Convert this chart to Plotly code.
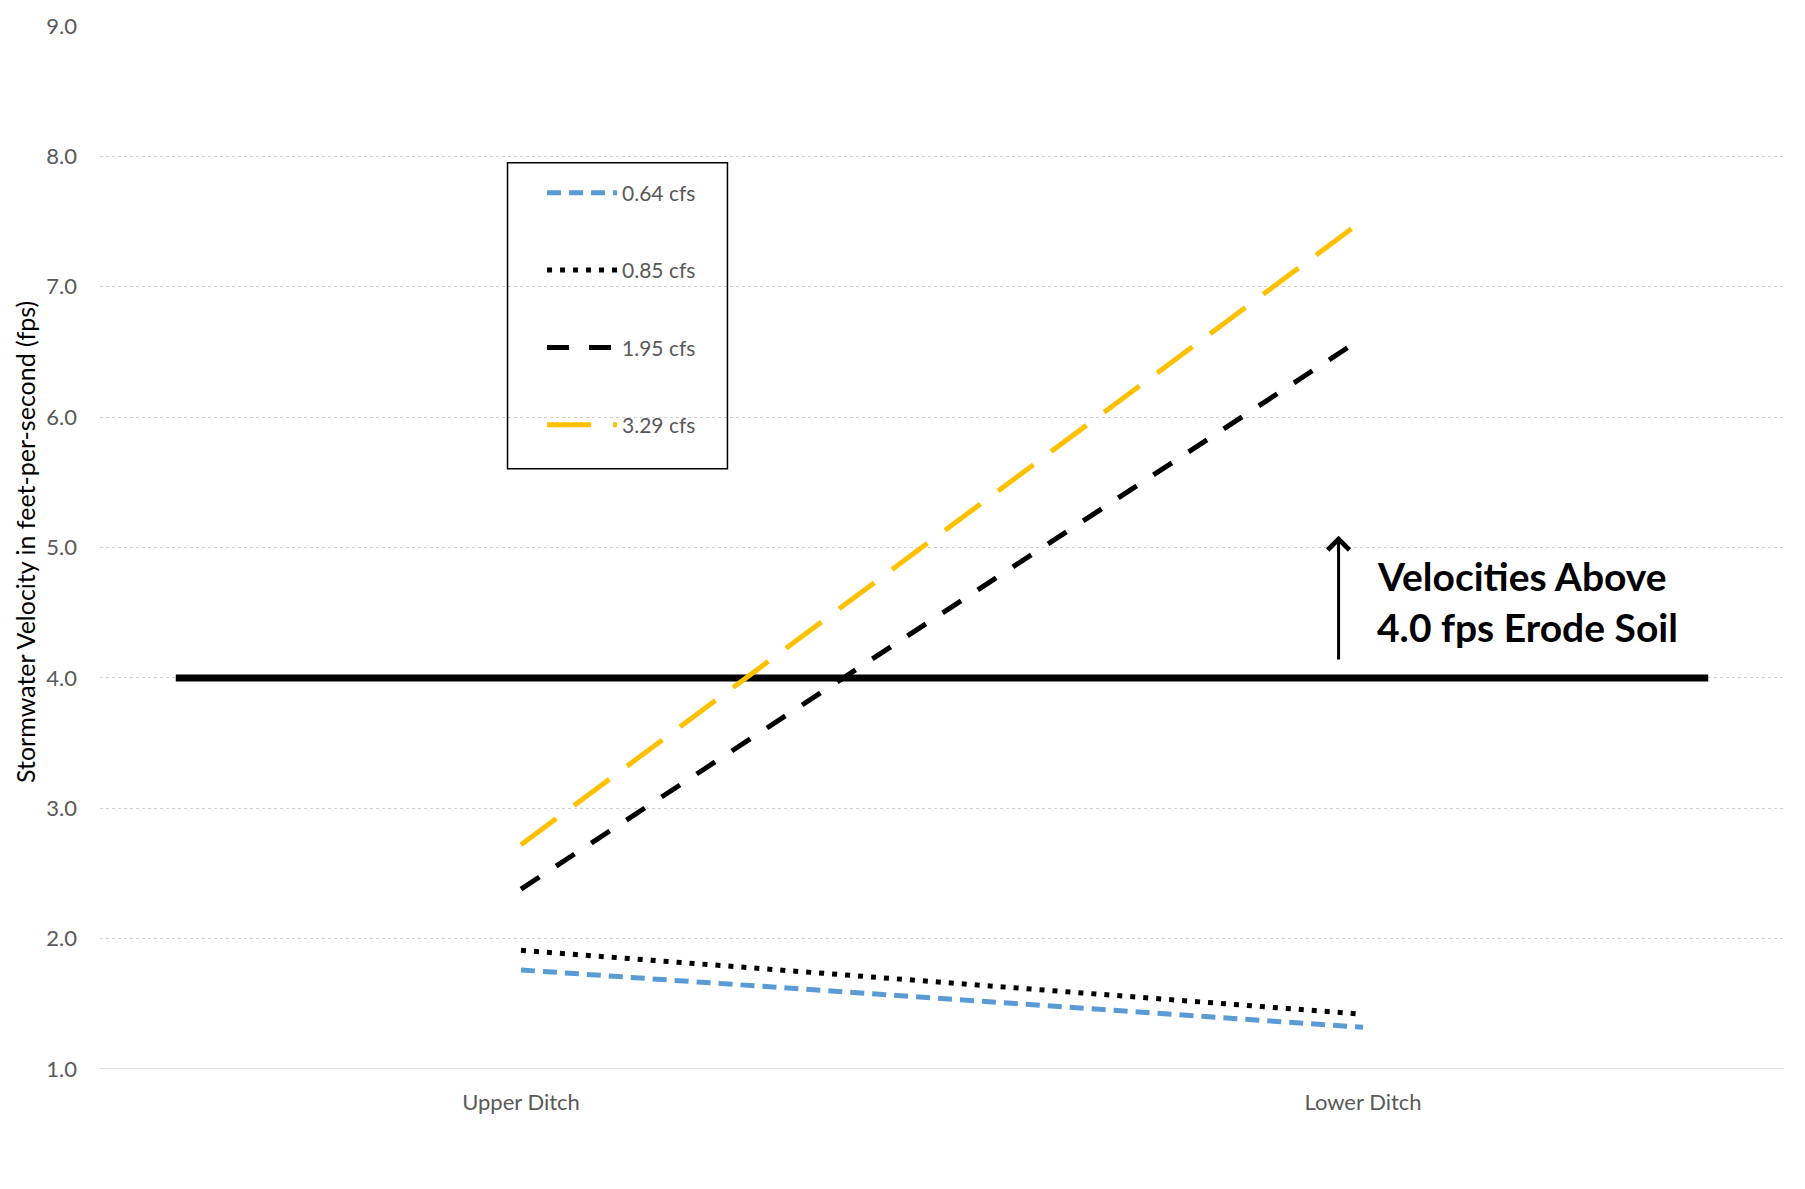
import plotly.graph_objects as go

# Ditch locations along the x axis
locations = ["Upper Ditch", "Lower Ditch"]

# Velocity (fps) at each location, one series per flow rate
flow_labels = ["0.64 cfs", "0.85 cfs", "1.95 cfs", "3.29 cfs"]
vel_064 = [1.76, 1.32]
vel_085 = [1.91, 1.42]
vel_195 = [2.38, 6.61]
vel_329 = [2.72, 7.51]

# Erosion threshold velocity
erosion_limit = 4.0

y_ticks = [1, 2, 3, 4, 5, 6, 7, 8, 9]
y_tick_text = ["1.0", "2.0", "3.0", "4.0", "5.0", "6.0", "7.0", "8.0", "9.0"]

FONT = "Lato, 'Open Sans', sans-serif"
TICK_GRAY = "#595959"

series = [
    (flow_labels[0], vel_064, "#5b9bd5", 5, "14px,8px"),
    (flow_labels[1], vel_085, "#000000", 5, "5px,8px"),
    (flow_labels[2], vel_195, "#000000", 5, "22px,20px"),
    (flow_labels[3], vel_329, "#ffc000", 5, "44px,22px"),
]

fig = go.Figure()
for i, (name, vals, color, width, dash) in enumerate(series):
    fig.add_trace(go.Scatter(
        x=locations, y=vals, name=name, mode="lines",
        line=dict(color=color, width=width, dash=dash),
        legendgroup=f"g{i}",
    ))

# Erosion threshold line across the chart
fig.add_shape(type="line", xref="x", yref="y",
              x0=-0.41, x1=1.41, y0=erosion_limit, y1=erosion_limit,
              line=dict(color="#000000", width=7), layer="between")

# Legend frame
fig.add_shape(type="rect", xref="paper", yref="paper",
              x0=0.242, x1=0.3726, y0=0.5756, y1=0.8688,
              line=dict(color="#000000", width=1.5), fillcolor="rgba(0,0,0,0)")

# Arrow pointing up from the threshold
fig.add_annotation(x=0.971, y=5.09, ax=0.971, ay=4.13,
                   xref="x", yref="y", axref="x", ayref="y",
                   text="", showarrow=True, arrowhead=4, arrowsize=1.4,
                   arrowwidth=3, arrowcolor="#000000")
fig.add_annotation(x=1.014, y=4.785, xref="x", yref="y", xanchor="left", yanchor="middle",
                   text="<b>Velocities Above</b>", showarrow=False,
                   font=dict(family=FONT, size=39, color="#000000"))
fig.add_annotation(x=1.014, y=4.39, xref="x", yref="y", xanchor="left", yanchor="middle",
                   text="<b>4.0 fps Erode Soil</b>", showarrow=False,
                   font=dict(family=FONT, size=39, color="#000000"))

# Value axis title
fig.add_annotation(x=-0.0444, y=0.5055, xref="paper", yref="paper",
                   xanchor="center", yanchor="middle", textangle=-90,
                   text="Stormwater Velocity in feet-per-second (fps)", showarrow=False,
                   font=dict(family=FONT, size=25, color="#000000"))

fig.update_layout(
    width=1805, height=1189,
    margin=dict(l=100, r=21, t=17, b=120),
    paper_bgcolor="white", plot_bgcolor="white",
    font=dict(family=FONT, color=TICK_GRAY),
    showlegend=True,
    legend=dict(x=0.2625, y=0.8594, xanchor="left", yanchor="top",
                bgcolor="rgba(0,0,0,0)", borderwidth=0,
                font=dict(family=FONT, size=21, color=TICK_GRAY),
                tracegroupgap=47, itemwidth=70),
    xaxis=dict(range=[-0.5, 1.5], showgrid=False, zeroline=False,
               showline=False, ticks="", ticklabelstandoff=18,
               tickfont=dict(family=FONT, size=22, color=TICK_GRAY)),
    yaxis=dict(range=[1, 9], tickvals=y_ticks, ticktext=y_tick_text,
               showgrid=True, gridcolor="#d0d0d0", griddash="dot", gridwidth=1,
               zeroline=False, showline=False, ticks="",
               ticklabelstandoff=22,
               tickfont=dict(family=FONT, size=22, color=TICK_GRAY)),
)

# Solid baseline at the bottom of the value axis
fig.add_shape(type="line", xref="paper", yref="y", x0=0, x1=1, y0=1, y1=1,
              line=dict(color="#d9d9d9", width=2), layer="below")

fig.write_html("out.html")
